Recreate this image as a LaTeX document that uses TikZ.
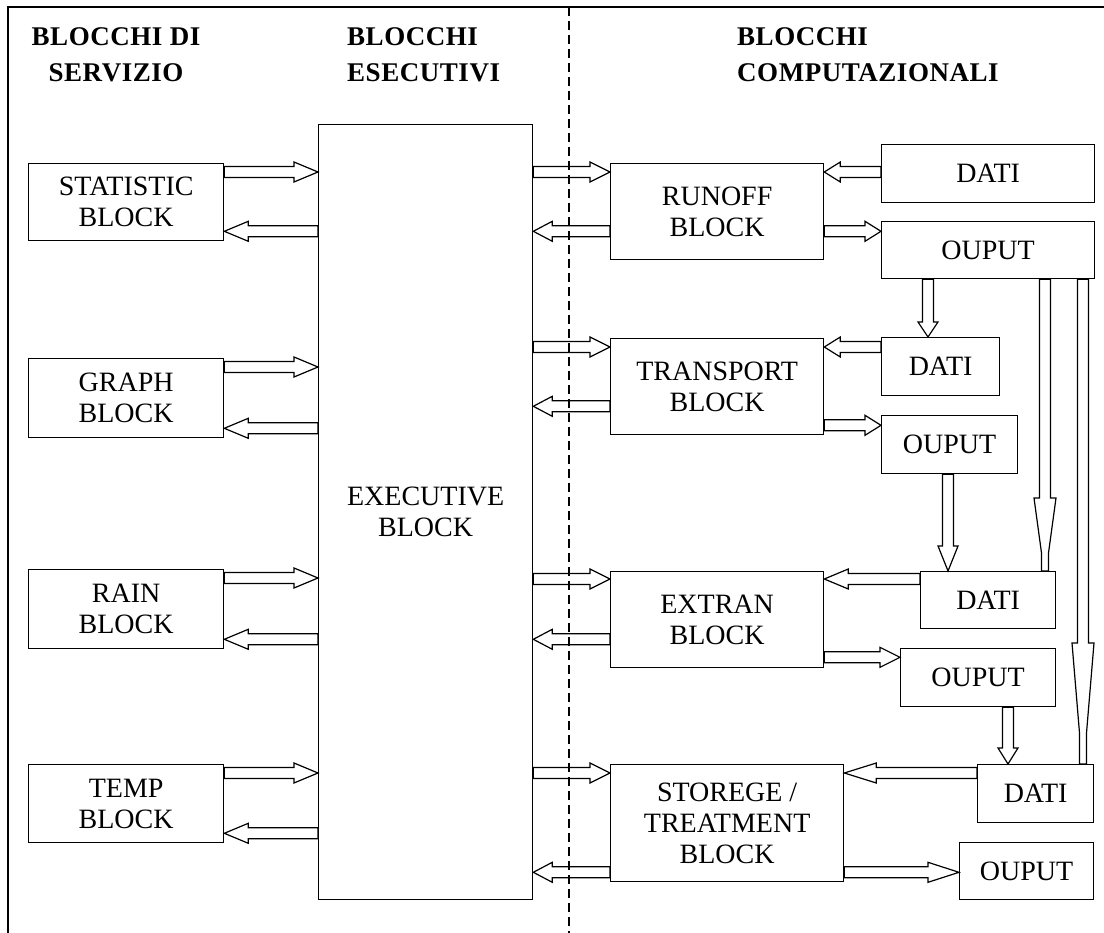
\documentclass[tikz,border=0pt]{standalone}
\usepackage{fontspec}
\setmainfont{Liberation Serif}
\newfontfamily\hdrfont[LetterSpace=2]{Liberation Serif}
\newfontfamily\boxfont{Liberation Serif}
\usetikzlibrary{calc}
\tikzset{
  blk/.style={draw, line width=1.3pt, inner sep=0pt, anchor=north west, align=center,
    font=\boxfont\fontsize{28}{31}\selectfont},
  hdr/.style={inner sep=0pt, font=\hdrfont\bfseries\fontsize{27}{32}\selectfont},
  arrline/.style={draw, line width=1.2pt, line join=miter},
  frameline/.style={line width=1.3pt},
  sepline/.style={line width=1.1pt, dash pattern=on 9pt off 5pt}
}
\newcommand{\blkarrow}[3][23pt]{%
  \path #2 coordinate (bas) #3 coordinate (bae);
  \coordinate (bab) at ($(bae)!#1!(bas)$);
  \draw[arrline] ($(bas)!5.5pt!90:(bae)$) -- ($(bab)!5.5pt!-90:(bas)$) -- ($(bab)!10pt!-90:(bas)$) -- (bae) -- ($(bab)!10pt!90:(bas)$) -- ($(bab)!5.5pt!90:(bas)$) -- ($(bas)!5.5pt!-90:(bae)$) -- cycle;}
\newcommand{\taparrow}[4]{%
  \path #1 coordinate (tas) #2 coordinate (tae);
  \coordinate (tab) at ($(tae)!#3!(tas)$);
  \coordinate (tan) at ($(tae)!#4!(tas)$);
  \draw[arrline] ($(tas)!5.5pt!90:(tae)$) -- ($(tab)!5.5pt!-90:(tas)$) -- ($(tab)!11pt!-90:(tas)$) -- ($(tan)!3.5pt!-90:(tas)$) -- ($(tae)!3.5pt!-90:(tas)$) -- ($(tae)!3.5pt!90:(tas)$) -- ($(tan)!3.5pt!90:(tas)$) -- ($(tab)!11pt!90:(tas)$) -- ($(tab)!5.5pt!90:(tas)$) -- ($(tas)!5.5pt!-90:(tae)$) -- cycle;}
\begin{document}
\begin{tikzpicture}[x=1pt,y=-1pt]
\useasboundingbox (0,0) rectangle (1104,933);
% frame and separator
\draw[frameline] (8,933) -- (8,7) -- (1104,7);
\draw[sepline] (569,7) -- (569,933);
% headers
\node[hdr, anchor=base] (h1a) at (116,46) {BLOCCHI DI};
\node[hdr, anchor=base] (h1b) at (116,82) {SERVIZIO};
\node[hdr, anchor=base west] (h2a) at (347,46) {BLOCCHI};
\node[hdr, anchor=base west] (h2b) at (347,82) {ESECUTIVI};
\node[hdr, anchor=base west] (h3a) at (737,46) {BLOCCHI};
\node[hdr, anchor=base west] (h3b) at (737,82) {COMPUTAZIONALI};
% service blocks
\node[blk, minimum width=195pt, minimum height=77pt] (stat) at (28,163) {STATISTIC\\BLOCK};
\node[blk, minimum width=195pt, minimum height=79pt] (graph) at (28,358) {GRAPH\\BLOCK};
\node[blk, minimum width=195pt, minimum height=79pt] (rain) at (28,569) {RAIN\\BLOCK};
\node[blk, minimum width=195pt, minimum height=78pt] (temp) at (28,764) {TEMP\\BLOCK};
% executive
\node[blk, minimum width=214pt, minimum height=775pt] (exec) at (318,124) {EXECUTIVE\\BLOCK};
% computational blocks
\node[blk, minimum width=213pt, minimum height=96pt] (runoff) at (610,163) {RUNOFF\\BLOCK};
\node[blk, minimum width=213pt, minimum height=96pt] (transport) at (610,338) {TRANSPORT\\BLOCK};
\node[blk, minimum width=213pt, minimum height=96pt] (extran) at (610,571) {EXTRAN\\BLOCK};
\node[blk, minimum width=233pt, minimum height=117pt] (storege) at (610,764) {STOREGE /\\TREATMENT\\BLOCK};
% data and outputs
\node[blk, minimum width=213pt, minimum height=58pt] (dati1) at (881,144) {DATI};
\node[blk, minimum width=213pt, minimum height=57pt] (out1) at (881,221) {OUPUT};
\node[blk, minimum width=118pt, minimum height=58pt] (dati2) at (881,337) {DATI};
\node[blk, minimum width=136pt, minimum height=58pt] (out2) at (881,415) {OUPUT};
\node[blk, minimum width=135pt, minimum height=57pt] (dati3) at (920,571) {DATI};
\node[blk, minimum width=155pt, minimum height=58pt] (out3) at (900,648) {OUPUT};
\node[blk, minimum width=116pt, minimum height=58pt] (dati4) at (977,764) {DATI};
\node[blk, minimum width=134pt, minimum height=57pt] (out4) at (959,842) {OUPUT};
% service <-> executive
\foreach \b in {stat,graph,rain,temp}{
  \blkarrow[24pt]{($(\b.north east)+(0,9)$)}{($(exec.west |- \b.north)+(0,9)$)}
  \blkarrow[24pt]{($(exec.west |- \b.south)+(0,-10)$)}{($(\b.south east)+(0,-10)$)}
}
% executive <-> computational
\blkarrow[20pt]{($(exec.east |- runoff.north)+(0,9)$)}{($(runoff.north west)+(0,9)$)}
\blkarrow[19pt]{($(runoff.south west)+(0,-29)$)}{($(exec.east |- runoff.south)+(0,-29)$)}
\blkarrow[20pt]{($(exec.east |- transport.north)+(0,9)$)}{($(transport.north west)+(0,9)$)}
\blkarrow[19pt]{($(transport.south west)+(0,-29)$)}{($(exec.east |- transport.south)+(0,-29)$)}
\blkarrow[20pt]{($(exec.east |- extran.north)+(0,8)$)}{($(extran.north west)+(0,8)$)}
\blkarrow[19pt]{($(extran.south west)+(0,-29)$)}{($(exec.east |- extran.south)+(0,-29)$)}
\blkarrow[20pt]{($(exec.east |- storege.north)+(0,9)$)}{($(storege.north west)+(0,9)$)}
\blkarrow[19pt]{($(storege.south west)+(0,-10)$)}{($(exec.east |- storege.south)+(0,-10)$)}
% data -> blocks, blocks -> outputs
\blkarrow[16pt]{($(dati1.west |- runoff.north)+(0,9)$)}{($(runoff.north east)+(0,9)$)}
\blkarrow[16pt]{($(runoff.south east)+(0,-29)$)}{($(out1.west |- runoff.south)+(0,-29)$)}
\blkarrow[16pt]{($(dati2.west |- transport.north)+(0,9)$)}{($(transport.north east)+(0,9)$)}
\blkarrow[16pt]{($(transport.south east)+(0,-10)$)}{($(out2.west |- transport.south)+(0,-10)$)}
\blkarrow[24pt]{($(dati3.west |- extran.north)+(0,8)$)}{($(extran.north east)+(0,8)$)}
\blkarrow[20pt]{($(extran.south east)+(0,-11)$)}{($(out3.west |- extran.south)+(0,-11)$)}
\blkarrow[32pt]{($(dati4.west |- storege.north)+(0,9)$)}{($(storege.north east)+(0,9)$)}
\blkarrow[31pt]{($(storege.south east)+(0,-10)$)}{($(out4.west |- storege.south)+(0,-10)$)}
% outputs -> next data
\coordinate (v1) at ($(out1.south west)+(47,0)$);
\blkarrow[15pt]{(v1)}{(v1 |- dati2.north)}
\coordinate (v2) at ($(out2.south west)+(67,0)$);
\blkarrow[25pt]{(v2)}{(v2 |- dati3.north)}
\coordinate (v3) at ($(out3.south west)+(108,0)$);
\blkarrow[16pt]{(v3)}{(v3 |- dati4.north)}
\coordinate (v4) at ($(out1.south west)+(164,0)$);
\taparrow{(v4)}{(v4 |- dati3.north)}{73pt}{18pt}
\coordinate (v5) at ($(out1.south west)+(202,0)$);
\taparrow{(v5)}{(v5 |- dati4.north)}{121pt}{31pt}
\end{tikzpicture}
\end{document}
